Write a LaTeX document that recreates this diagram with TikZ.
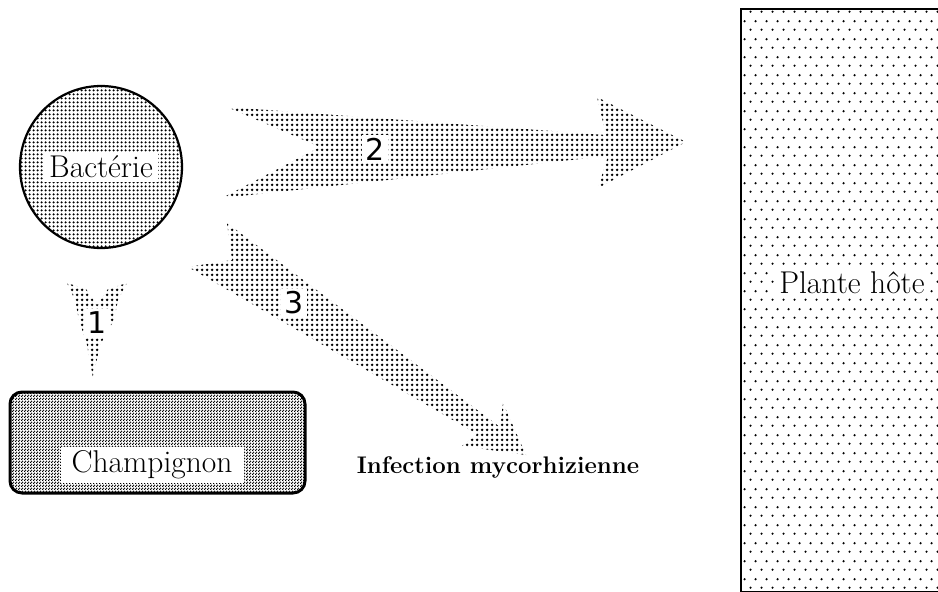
\documentclass[tikz,border=0pt]{standalone}
\usepackage{fontspec}
\newfontfamily\numfont{DejaVu Sans}
\usetikzlibrary{patterns}

% Motifs de points (trames)
\pgfdeclarepatternformonly{bactdots}{\pgfpointorigin}{\pgfpoint{4pt}{4pt}}{\pgfpoint{4pt}{4pt}}{%
  \pgfpathcircle{\pgfpoint{2pt}{2pt}}{1.45pt}\pgfusepath{fill}}
\pgfdeclarepatternformonly{arrowdots}{\pgfpointorigin}{\pgfpoint{5pt}{5pt}}{\pgfpoint{5pt}{5pt}}{%
  \pgfpathcircle{\pgfpoint{2.5pt}{2.5pt}}{1.7pt}\pgfusepath{fill}}
\pgfdeclarepatternformonly{champdots}{\pgfpointorigin}{\pgfpoint{3pt}{3pt}}{\pgfpoint{3pt}{3pt}}{%
  \pgfpathcircle{\pgfpoint{0.75pt}{0.75pt}}{1.0pt}\pgfusepath{fill}%
  \pgfpathcircle{\pgfpoint{2.25pt}{2.25pt}}{1.0pt}\pgfusepath{fill}}
\pgfdeclarepatternformonly{plantedots}{\pgfpointorigin}{\pgfpoint{11pt}{18pt}}{\pgfpoint{11pt}{18pt}}{%
  \pgfpathcircle{\pgfpoint{2.75pt}{4.5pt}}{1.3pt}\pgfusepath{fill}%
  \pgfpathcircle{\pgfpoint{8.25pt}{13.5pt}}{1.3pt}\pgfusepath{fill}}

\tikzset{
labelfont/.style={
  font=\fontsize{31.5}{34}\selectfont
},
whitelabel/.style={
  fill=white,
  inner xsep=5pt,
  inner ysep=4pt,
  labelfont
},
numlabel/.style={
  fill=white,
  inner xsep=3pt,
  inner ysep=3pt,
  font=\numfont\fontsize{30}{30}\selectfont
},
fatarrow/.style={
  pattern=arrowdots
}
}

\begin{document}
\begin{tikzpicture}[
    x=1pt, y=-1pt,
    % Estilo para os blocos
    circleblock/.style={
        circle,
        draw,
        line width=2.2pt,
        pattern=bactdots,
        minimum size=162pt
    },
    champblock/.style={
        rectangle,
        draw,
        line width=3pt,
        rounded corners=12pt,
        pattern=champdots,
        minimum width=295pt,
        minimum height=101pt
    },
    planteblock/.style={
        rectangle,
        draw,
        line width=2pt,
        pattern=plantedots,
        minimum width=202pt,
        minimum height=583pt
    },
]
\useasboundingbox (0,0) rectangle (938,592);

% ============================================================================
% Blocs : Bacterie, Champignon, Plante hote
% ============================================================================

% Bacterie
\node[circleblock] (bact) at (101,167) {};
\node[whitelabel] (bactlabel) at (bact.center) {Bactérie};

% Champignon
\node[champblock] (champ) at (157.5,442.5) {};
\node[whitelabel, inner xsep=11pt, inner ysep=4pt] (champlabel) at (152,465) {Champignon};

% Plante hote
\node[planteblock, anchor=north west] (plante) at (740,8) {};
\node[whitelabel, inner xsep=3pt, inner ysep=3pt] (plantelabel) at (852,283) {Plante hôte};

% Infection mycorhizienne
\node[font=\bfseries\fontsize{24}{26}\selectfont] (infect) at (498,467) {Infection mycorhizienne};

% ============================================================================
% Fleches
% ============================================================================

% 1 : Bacterie -> Champignon
\coordinate (tail1) at (97,305);
\coordinate (tip1) at (93,378);
\fill[fatarrow] (67,283) -- (86,289) -- (tail1) -- (108,289) -- (127,283) -- (118,300)
  -- (114,320) -- (100,345) -- (tip1) -- (87,345) -- (79,320) -- (75,300) -- cycle;
\node[numlabel] (num1) at (97,323) {1};

% 2 : Bacterie -> Plante hote
\coordinate (tail2) at (320,147);
\coordinate (tip2) at (686,142);
\fill[fatarrow] (227,107) -- (606,135) -- (597,97) -- (tip2) -- (598,188) -- (608,156)
  -- (222,198) -- (tail2) -- cycle;
\node[numlabel] (num2) at (375,149) {2};

% 3 : Bacterie -> Infection mycorhizienne
\coordinate (tail3) at (232,260);
\coordinate (tip3) at (526,455);
\fill[fatarrow] (227,223) -- (500,427) -- (503,403) -- (tip3) -- (462,446) -- (477,434)
  -- (188,267) -- (tail3) -- cycle;
\node[numlabel] (num3) at (294,303) {3};

\end{tikzpicture}
\end{document}
